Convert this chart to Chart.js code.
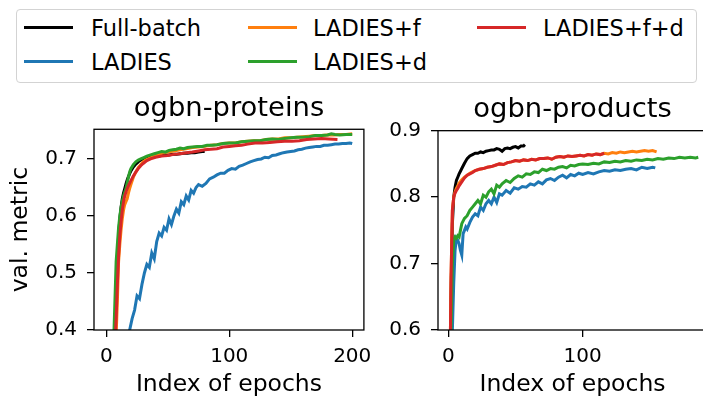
<!DOCTYPE html>
<html>
<head>
<meta charset="utf-8">
<script src="https://cdn.jsdelivr.net/npm/chart.js@4.4.0/dist/chart.umd.min.js"></script>
<style>
  html, body { margin:0; padding:0; background:#fff; }
  body { position:relative; width:703px; height:400px; overflow:hidden; font-family:"DejaVu Sans", sans-serif; }
  #legend { position:absolute; left:16px; top:9px; width:681px; height:74px; box-sizing:border-box;
            border:1.5px solid #d3d3d3; border-radius:4px; background:#fff; }
  .sw { position:absolute; width:49px; height:3px; }
  .lb { position:absolute; height:30px; line-height:30px; font-size:22.5px; color:#000; white-space:nowrap; }
  canvas { position:absolute; }
</style>
</head>
<body>
<div id="legend"></div>
<canvas id="prot" width="380" height="310" style="left:0;top:90px"></canvas>
<canvas id="prod" width="340" height="310" style="left:380px;top:90px"></canvas>
<script>
// series names + colours (legend order)
const seriesNames  = ['Full-batch', 'LADIES', 'LADIES+f', 'LADIES+d', 'LADIES+f+d'];
const seriesColors = ['#000000', '#1f77b4', '#ff7f0e', '#2ca02c', '#d62728'];

// ---- ogbn-proteins ----
const protFullX = [0,4,7,8,9,10,11,12,13,14,15,16,17,18,19,20,22,24,26,28,30,33,36,39,42,45,48,51,54,57,60,63,66,69,72,75,78,80];
const protFullY = [0.20,0.30,0.38,0.45,0.52,0.565,0.595,0.615,0.630,0.640,0.648,0.656,0.663,0.669,0.674,0.679,0.686,0.691,0.695,0.698,0.700,0.702,0.703,0.704,0.705,0.706,0.707,0.707,0.708,0.708,0.709,0.710,0.710,0.711,0.711,0.712,0.713,0.713];

const protLadX = [17,19,21,23,25,27,29,31,33,35,37,39,41,43,45,47,49,51,53,55,57,59,61,63,65,67,69,71,73,75,78,81,84,87,90,93,96,99,102,105,108,111,114,117,120,123,126,129,132,135,138,141,144,147,150,153,156,159,162,165,168,171,174,177,180,183,186,189,192,195,198,200];
const protLadY = [0.37,0.40,0.42,0.435,0.46,0.455,0.48,0.50,0.515,0.51,0.535,0.525,0.555,0.57,0.565,0.58,0.575,0.595,0.585,0.60,0.612,0.605,0.625,0.62,0.635,0.628,0.645,0.64,0.65,0.655,0.652,0.657,0.665,0.668,0.672,0.675,0.675,0.68,0.683,0.682,0.687,0.689,0.692,0.695,0.697,0.699,0.70,0.703,0.702,0.706,0.707,0.709,0.711,0.712,0.713,0.714,0.716,0.717,0.719,0.72,0.721,0.722,0.722,0.724,0.724,0.725,0.726,0.726,0.727,0.727,0.728,0.727];

const protFX = [0,5,8,9,10,11,12,13,14,15,16,17,18,19,20,22,24,26,28,30,32,35,38,41,44,47,50,55,60,65,70,75,80,85,90,95,100,105,110,115,120,125,130,135,140,145,150,155,160,165,170,175,180,185,190,195,200];
const protFY = [0.15,0.30,0.39,0.45,0.52,0.55,0.575,0.595,0.61,0.62,0.625,0.630,0.640,0.648,0.655,0.668,0.677,0.685,0.690,0.695,0.698,0.701,0.704,0.707,0.709,0.711,0.712,0.714,0.716,0.718,0.720,0.721,0.722,0.724,0.725,0.727,0.728,0.728,0.730,0.731,0.732,0.732,0.734,0.735,0.735,0.737,0.737,0.738,0.739,0.740,0.741,0.741,0.742,0.742,0.743,0.743,0.744];

const protDX = [0,4,6,7,8,9,10,11,12,13,14,15,16,17,18,19,20,22,24,26,28,30,33,36,39,42,45,48,51,54,57,60,63,66,70,74,78,82,86,90,95,100,105,110,115,120,125,130,135,140,145,150,155,160,165,170,175,180,183,186,190,195,200];
const protDY = [0.15,0.30,0.38,0.45,0.52,0.55,0.58,0.60,0.615,0.626,0.635,0.642,0.648,0.658,0.668,0.677,0.683,0.690,0.695,0.698,0.700,0.702,0.705,0.707,0.709,0.711,0.713,0.712,0.715,0.716,0.717,0.719,0.718,0.720,0.721,0.722,0.722,0.724,0.724,0.725,0.727,0.728,0.728,0.730,0.731,0.732,0.732,0.734,0.735,0.734,0.736,0.737,0.738,0.738,0.739,0.741,0.741,0.742,0.744,0.743,0.742,0.743,0.743];

const protFDX = [0,5,7,8,9,10,11,12,13,14,15,16,17,18,20,22,24,26,28,30,33,36,40,45,50,55,60,65,70,75,80,85,90,95,100,105,110,115,121,127,133,139,145,151,157,163,169,175,181,188];
const protFDY = [0.15,0.30,0.37,0.42,0.48,0.53,0.565,0.59,0.61,0.625,0.635,0.642,0.648,0.653,0.662,0.670,0.677,0.683,0.688,0.692,0.697,0.700,0.703,0.705,0.706,0.708,0.709,0.711,0.712,0.714,0.716,0.717,0.718,0.721,0.722,0.723,0.724,0.726,0.728,0.728,0.729,0.730,0.731,0.731,0.732,0.734,0.735,0.736,0.735,0.734];

// ---- ogbn-products ----
const prodFullX = [0,1,2,3,4,5,6,7,8,9,10,12,14,16,18,20,22,24,26,28,30,32,34,36,38,40,42,44,46,48,50,52,54,56,57];
const prodFullY = [0.30,0.50,0.65,0.76,0.80,0.815,0.825,0.830,0.835,0.839,0.843,0.851,0.858,0.862,0.864,0.866,0.866,0.868,0.867,0.869,0.870,0.871,0.871,0.873,0.872,0.869,0.873,0.874,0.873,0.875,0.876,0.874,0.877,0.877,0.879];

const prodLadX = [0,1,2,3,4,5,6,7,8,9,10,11,12,13,14,16,18,20,22,24,26,28,30,32,34,36,38,40,43,46,49,52,55,58,61,64,67,70,73,76,79,82,85,88,91,94,97,100,104,108,112,116,120,124,128,132,136,140,144,148,152,154];
const prodLadY = [0.20,0.35,0.50,0.60,0.67,0.72,0.738,0.735,0.73,0.72,0.713,0.745,0.75,0.755,0.752,0.762,0.77,0.775,0.772,0.785,0.78,0.79,0.795,0.79,0.80,0.792,0.805,0.803,0.81,0.806,0.814,0.812,0.816,0.815,0.82,0.818,0.823,0.82,0.826,0.828,0.825,0.83,0.833,0.829,0.834,0.832,0.836,0.834,0.837,0.835,0.838,0.84,0.839,0.841,0.84,0.842,0.843,0.841,0.845,0.843,0.845,0.844];

const prodFX = [0,1,2,3,4,5,6,7,8,10,12,14,16,18,20,23,26,29,32,35,38,41,44,47,50,53,56,59,62,65,68,71,74,77,80,83,86,89,92,95,98,101,104,107,110,113,116,119,122,125,128,131,134,137,140,143,146,149,152,155];
const prodFY = [0.30,0.50,0.68,0.78,0.80,0.808,0.813,0.817,0.821,0.826,0.830,0.833,0.836,0.838,0.840,0.842,0.843,0.845,0.846,0.848,0.850,0.849,0.852,0.853,0.855,0.854,0.856,0.855,0.857,0.856,0.858,0.858,0.859,0.857,0.860,0.861,0.860,0.862,0.861,0.862,0.863,0.862,0.864,0.863,0.865,0.864,0.866,0.865,0.867,0.866,0.868,0.867,0.868,0.869,0.868,0.869,0.870,0.869,0.870,0.868];

const prodDX = [0,1,2,3,4,5,6,7,8,9,10,12,14,16,18,20,22,24,26,28,30,32,34,36,38,40,43,46,49,52,55,58,61,64,67,70,73,76,79,82,85,88,91,94,97,100,104,108,112,116,120,124,128,132,136,140,144,148,152,156,160,164,168,172,176,180,184,186];
const prodDY = [0.30,0.45,0.60,0.70,0.735,0.74,0.738,0.742,0.74,0.75,0.76,0.768,0.772,0.78,0.785,0.79,0.795,0.79,0.803,0.80,0.808,0.812,0.805,0.818,0.815,0.82,0.825,0.822,0.828,0.832,0.83,0.835,0.834,0.838,0.837,0.842,0.84,0.843,0.842,0.845,0.846,0.844,0.848,0.847,0.849,0.85,0.849,0.851,0.85,0.853,0.852,0.854,0.853,0.855,0.854,0.856,0.855,0.857,0.856,0.858,0.857,0.859,0.858,0.86,0.859,0.86,0.859,0.86];

const prodFDX = [0,1,2,3,4,5,6,7,8,10,12,14,16,18,20,23,26,29,32,35,38,41,44,47,50,53,56,59,62,65,68,71,74,77,80,83,86,89,92,95,98,101,104,107,110,113,116];
const prodFDY = [0.30,0.50,0.68,0.78,0.80,0.806,0.81,0.813,0.817,0.823,0.829,0.833,0.835,0.837,0.84,0.842,0.843,0.845,0.846,0.848,0.85,0.849,0.852,0.853,0.855,0.854,0.856,0.855,0.857,0.856,0.858,0.858,0.859,0.857,0.86,0.861,0.86,0.862,0.861,0.862,0.863,0.862,0.864,0.863,0.865,0.864,0.866];

// tick labels
const protXTicks = [0, 100, 200];
const protYTicks = [0.4, 0.5, 0.6, 0.7];
const prodXTicks = [0, 100];
const prodYTicks = [0.6, 0.7, 0.8, 0.9];

const FONT = '"DejaVu Sans", sans-serif';

// legend (html, 3 columns, column-major like matplotlib)
const swX = [24, 248, 477], txX = [91, 313, 543], rowY = [27, 61];
seriesNames.forEach((name, i) => {
  const col = Math.floor(i / 2), row = i % 2;
  const sw = document.createElement('div');
  sw.className = 'sw';
  sw.style.cssText = `left:${swX[col]}px;top:${rowY[row] - 1.5}px;background:${seriesColors[i]}`;
  document.body.appendChild(sw);
  const lb = document.createElement('div');
  lb.className = 'lb';
  lb.textContent = name;
  lb.style.cssText = `left:${txX[col]}px;top:${rowY[row] - 14}px`;
  document.body.appendChild(lb);
});

// box round the axes (matplotlib spines)
const framePlugin = {
  id: 'frame',
  afterDatasetsDraw(chart) {
    const { ctx, chartArea: a } = chart;
    ctx.save();
    ctx.strokeStyle = '#000';
    ctx.lineWidth = 1.3;
    ctx.strokeRect(a.left, a.top, a.right - a.left, a.bottom - a.top);
    ctx.restore();
  }
};

function makePanel(id, p) {
  // last series on top, as in the original
  const datasets = p.xs.map((xs, i) => ({
    label: seriesNames[i],
    data: xs.map((x, j) => ({ x, y: p.ys[i][j] })),
    borderColor: seriesColors[i],
    borderWidth: 3,
    pointRadius: 0,
    tension: 0,
    fill: false
  })).reverse();

  const tickGrid = { drawOnChartArea: false, drawTicks: true, tickLength: 7, color: '#000', lineWidth: 1.3 };

  return new Chart(document.getElementById(id), {
    type: 'line',
    data: { datasets },
    options: {
      responsive: false,
      animation: false,
      devicePixelRatio: 1,
      layout: { padding: { left: 0, right: p.padRight, top: 0, bottom: 0 } },
      plugins: {
        legend: { display: false },
        tooltip: { enabled: false },
        title: {
          display: true, text: p.title, color: '#000', fullSize: false,
          font: { family: FONT, size: 27.4, weight: 'normal' },
          padding: { top: p.titleTop, bottom: p.titleBottom }
        }
      },
      scales: {
        x: {
          type: 'linear', min: p.xMin, max: p.xMax,
          afterBuildTicks: s => { s.ticks = p.xTicks.map(v => ({ value: v })); },
          afterFit: s => { s.height = 70; },
          ticks: { color: '#000', font: { family: FONT, size: 20 }, padding: 8, maxRotation: 0, callback: v => String(v) },
          grid: tickGrid,
          border: { display: false },
          title: { display: true, text: 'Index of epochs', color: '#000',
                   font: { family: FONT, size: 23.5 }, padding: { top: 0, bottom: 1 } }
        },
        y: {
          type: 'linear', min: p.yMin, max: p.yMax,
          afterBuildTicks: s => { s.ticks = p.yTicks.map(v => ({ value: v })); },
          afterFit: s => { s.width = p.yWidth; },
          ticks: { color: '#000', font: { family: FONT, size: 20 }, padding: 10, callback: v => v.toFixed(1) },
          grid: tickGrid,
          border: { display: false },
          title: { display: p.yTitle !== '', text: p.yTitle, color: '#000',
                   font: { family: FONT, size: 23.5 }, padding: { top: 7, bottom: 0 } }
        }
      }
    },
    plugins: [framePlugin]
  });
}

makePanel('prot', {
  title: 'ogbn-proteins', titleTop: 2, titleBottom: 4.4,
  xs: [protFullX, protLadX, protFX, protDX, protFDX],
  ys: [protFullY, protLadY, protFY, protDY, protFDY],
  xMin: -10, xMax: 209.5, yMin: 0.4, yMax: 0.752,
  xTicks: protXTicks, yTicks: protYTicks,
  yWidth: 94, padRight: 11.7, yTitle: 'val. metric'
});

makePanel('prod', {
  title: 'ogbn-products', titleTop: 3, titleBottom: 4.8,
  xs: [prodFullX, prodLadX, prodFX, prodDX, prodFDX],
  ys: [prodFullY, prodLadY, prodFY, prodDY, prodFDY],
  xMin: -7.7, xMax: 192.5, yMin: 0.6, yMax: 0.9,
  xTicks: prodXTicks, yTicks: prodYTicks,
  yWidth: 58, padRight: 13, yTitle: ''
});
</script>
</body>
</html>
